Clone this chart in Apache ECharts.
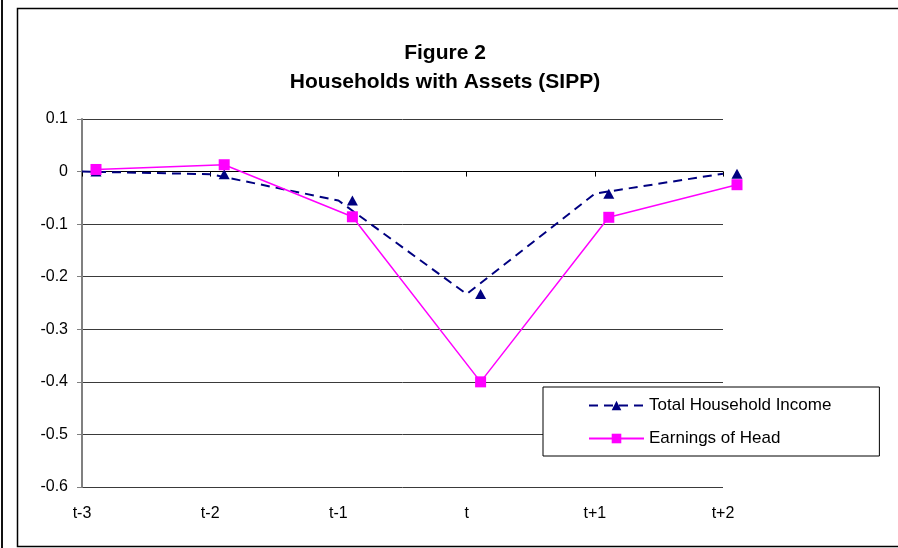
<!DOCTYPE html>
<html>
<head>
<meta charset="utf-8">
<script src="https://cdn.jsdelivr.net/npm/echarts@6/dist/echarts.min.js"></script>
<style>
html,body{margin:0;padding:0;background:#fff;}
#chart{width:898px;height:548px;}
</style>
</head>
<body>
<div id="chart"></div>
<script>
const categories = ['t-3', 't-2', 't-1', 't', 't+1', 't+2'];
const totalHouseholdIncome = [0, -0.005, -0.055, -0.233, -0.042, -0.004];
const earningsOfHead = [0.004, 0.013, -0.086, -0.40, -0.087, -0.025];
const titleLines = ['Figure 2', 'Households with Assets (SIPP)'];
const seriesNames = ['Total Household Income', 'Earnings of Head'];

const FONT = '"Liberation Sans", Arial, sans-serif';
const chart = echarts.init(document.getElementById('chart'), null, {renderer: 'canvas'});

const yAxisBase = {
  type: 'value', min: -0.6, max: 0.1, interval: 0.1
};

chart.setOption({
  animation: false,
  backgroundColor: '#fff',
  title: {
    text: titleLines.join('\n'),
    left: 440, top: 34, textAlign: 'center',
    textStyle: {fontFamily: FONT, fontSize: 21, fontWeight: 'bold', color: '#000', lineHeight: 29}
  },
  graphic: [
    {type: 'rect', shape: {x: 17.5, y: 8.5, width: 900, height: 538}, style: {fill: 'none', stroke: '#000', lineWidth: 1.5}, z: -1},
    {type: 'line', shape: {x1: 2, y1: 0, x2: 2, y2: 548}, style: {stroke: '#111', lineWidth: 2}}
  ],
  legend: {
    orient: 'vertical',
    left: 543, top: 387,
    padding: [10, 48, 9, 45],
    itemGap: 16,
    itemWidth: 55, itemHeight: 12,
    backgroundColor: '#fff',
    borderColor: '#000', borderWidth: 1,
    textStyle: {fontFamily: FONT, fontSize: 17, color: '#000'},
    data: seriesNames
  },
  grid: [
    {left: 82, top: 119, width: 641, height: 368, containLabel: false},
    {left: 96, top: 119, width: 641, height: 368, containLabel: false}
  ],
  xAxis: [
    {
      type: 'category', gridIndex: 0, data: categories, boundaryGap: false,
      axisLine: {lineStyle: {color: '#000', width: 1}},
      axisTick: {show: true, length: 5, lineStyle: {color: '#000'}},
      axisLabel: {fontFamily: FONT, fontSize: 16, color: '#000', margin: 19},
      splitLine: {show: false}
    },
    {
      type: 'category', gridIndex: 1, data: categories, boundaryGap: false, show: false
    }
  ],
  yAxis: [
    Object.assign({}, yAxisBase, {
      gridIndex: 0,
      axisLine: {show: true, lineStyle: {color: '#808080', width: 2}},
      axisTick: {show: true, length: 5, lineStyle: {color: '#808080'}},
      axisLabel: {
        fontFamily: FONT, fontSize: 16, color: '#000', margin: 14,
        formatter: v => String(Math.round(v * 10) / 10)
      },
      splitLine: {show: true, lineStyle: {color: '#3a3a3a', width: 1}}
    }),
    Object.assign({}, yAxisBase, {gridIndex: 1, show: false})
  ],
  series: [
    {
      name: seriesNames[0], type: 'line', xAxisIndex: 0, yAxisIndex: 0,
      data: totalHouseholdIncome,
      symbol: 'triangle', symbolSize: [11, 10], symbolOffset: [14, 0],
      showAllSymbol: true,
      lineStyle: {color: '#000080', width: 2, type: [9, 6]},
      itemStyle: {color: '#000080'},
      z: 3
    },
    {
      name: seriesNames[1], type: 'line', xAxisIndex: 1, yAxisIndex: 1,
      data: earningsOfHead,
      symbol: 'rect', symbolSize: 11,
      showAllSymbol: true,
      lineStyle: {color: '#ff00ff', width: 1.5},
      itemStyle: {color: '#ff00ff'},
      z: 4
    }
  ]
});
</script>
</body>
</html>
